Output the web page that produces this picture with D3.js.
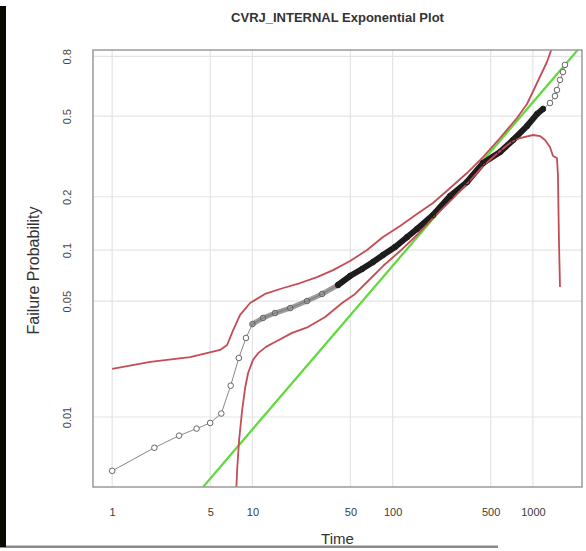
<!DOCTYPE html>
<html>
<head>
<meta charset="utf-8">
<script src="https://cdn.jsdelivr.net/npm/d3@7"></script>
<style>
  html, body { margin: 0; padding: 0; background: #fff; }
  svg { display: block; }
  text { font-family: "Liberation Sans", Arial, sans-serif; }
  .gray-text { opacity: 0.99; }
</style>
</head>
<body>
<svg id="chart" width="586" height="551"></svg>
<script>
// ---------- data ----------
const titleText = "CVRJ_INTERNAL Exponential Plot";
const xLabel = "Time";
const yLabel = "Failure Probability";

const xTickValues = [1, 5, 10, 50, 100, 500, 1000];
const yTickProbs = [0.01, 0.05, 0.1, 0.2, 0.5, 0.8];
const yTickLabels = ["0.01", "0.05", "0.1", "0.2", "0.5", "0.8"];

// observed failure points (time, failure probability)
const obsTimes = [1, 2, 3, 4, 5, 6, 7, 8, 9, 10, 11.9, 14.5, 18.6, 24.5, 31.4, 40.8, 49.7, 60.5, 72.5, 85.4,
  104, 127, 149, 194, 257, 339, 441, 583, 722, 908, 1070, 1180, 1324, 1437, 1485, 1561, 1639, 1693];
const obsProbs = [0.0047, 0.0065, 0.0077, 0.0085, 0.0092, 0.0105, 0.0155, 0.0228, 0.0301, 0.0365, 0.0397, 0.0425,
  0.0455, 0.0501, 0.0552, 0.0624, 0.0705, 0.0775, 0.0852, 0.0936, 0.1042, 0.1189, 0.1321, 0.1584, 0.2018, 0.2401,
  0.3014, 0.3422, 0.3910, 0.4532, 0.5107, 0.5356, 0.566, 0.602, 0.633, 0.685, 0.725, 0.760];

// upper confidence bound
const upperTimes = [1, 1.87, 3.6, 5.89, 6.6, 7.29, 8.17, 9.63, 12.3, 16.6, 21.9, 28.9, 37.6, 49.7, 65.7, 85.4,
  113, 149, 194, 257, 339, 441, 583, 770, 908, 1070, 1260, 1391];
const upperProbs = [0.0196, 0.0216, 0.0231, 0.0255, 0.0273, 0.0336, 0.0414, 0.0488, 0.0552, 0.0599, 0.0641, 0.0695,
  0.0764, 0.0863, 0.1000, 0.1189, 0.1374, 0.1605, 0.1848, 0.2230, 0.2677, 0.3231, 0.3995, 0.4912, 0.5609, 0.6691,
  0.7738, 0.8486];

// lower confidence bound
const lowerTimes = [7.65, 7.78, 8.04, 8.45, 8.87, 9.32, 10.1, 11.0, 12.5, 14.5, 19.2, 24.9, 33.0, 43.6, 54.0, 65.7,
  85.4, 113, 149, 194, 257, 339, 441, 583, 687, 809, 1002, 1124, 1220, 1324, 1391, 1485, 1509, 1534, 1561];
const lowerProbs = [0.00335, 0.00476, 0.00725, 0.01103, 0.0150, 0.0185, 0.0222, 0.0244, 0.0266, 0.0285, 0.0323,
  0.0350, 0.0402, 0.0488, 0.0552, 0.0650, 0.0807, 0.0987, 0.1221, 0.1524, 0.1895, 0.2343, 0.2909, 0.3460, 0.3783,
  0.3995, 0.4126, 0.4081, 0.3910, 0.3620, 0.3269, 0.3194, 0.2614, 0.1143, 0.0607];

// fitted exponential line (two end points)
const fitTimes = [4.45, 2200];
const fitProbs = [0.00375, 0.8435];

// ---------- drawing ----------
const svg = d3.select("#chart");
const plot = { left: 93, right: 582, top: 50, bottom: 487 };

// cumulative hazard transform for the exponential probability axis
const hz = p => -Math.log(1 - p);

const x = d3.scaleLog().domain([0.73, 2240]).range([plot.left, plot.right]);
const y = d3.scaleLog().domain([0.003753, 1.76]).range([plot.bottom, plot.top]);

svg.append("rect").attr("width", 586).attr("height", 551).attr("fill", "#fff");

svg.append("clipPath").attr("id", "clip")
  .append("rect")
  .attr("x", plot.left).attr("y", plot.top)
  .attr("width", plot.right - plot.left).attr("height", plot.bottom - plot.top);

// grid
const grid = svg.append("g").attr("stroke", "#e4e4e4").attr("stroke-width", 1.2);
grid.selectAll(".vg").data(xTickValues).join("line")
  .attr("x1", d => x(d)).attr("x2", d => x(d))
  .attr("y1", plot.top).attr("y2", plot.bottom);
grid.selectAll(".hg").data(yTickProbs).join("line")
  .attr("x1", plot.left).attr("x2", plot.right)
  .attr("y1", d => y(hz(d))).attr("y2", d => y(hz(d)));

// axes (labels only)
const xAxis = d3.axisBottom(x).tickValues(xTickValues).tickFormat(d3.format("d")).tickSize(0).tickPadding(0);
const gx = svg.append("g").attr("class", "gray-text").attr("transform", `translate(0,${plot.bottom + 25})`)
  .attr("color", "#3a3a3a").call(xAxis);
gx.select(".domain").remove();
gx.selectAll("text").attr("font-size", 11).attr("fill", "#3a3a3a").attr("dy", "0.35em")
  .style("font-family", "'Liberation Sans', Arial, sans-serif");

const yAxis = d3.axisLeft(y).tickValues(yTickProbs.map(hz))
  .tickFormat((d, i) => yTickLabels[i]).tickSize(0).tickPadding(0);
const gy = svg.append("g").attr("transform", `translate(${plot.left - 26},0)`)
  .attr("color", "#444").call(yAxis);
gy.select(".domain").remove();
gy.selectAll("text")
  .attr("font-size", 11).attr("fill", "#444")
  .attr("x", 0).attr("dy", 0)
  .attr("text-anchor", "middle").attr("dominant-baseline", "central")
  .attr("transform", "rotate(-90)")
  .style("font-family", "'Liberation Sans', Arial, sans-serif");

const body = svg.append("g").attr("clip-path", "url(#clip)");

const toPts = (ts, ps) => ts.map((t, i) => [t, ps[i]]);
const line = d3.line().x(d => x(d[0])).y(d => y(hz(d[1])));

// fitted line
body.append("path").datum(toPts(fitTimes, fitProbs))
  .attr("d", line).attr("fill", "none").attr("stroke", "#5fd93c").attr("stroke-width", 2.2);

// observed: thin connecting line
const obs = toPts(obsTimes, obsProbs);
body.append("path").datum(obs)
  .attr("d", line).attr("fill", "none").attr("stroke", "#888").attr("stroke-width", 1);

// dense part of the observations
body.append("path").datum(obs.filter(d => d[0] >= 10 && d[0] <= 41))
  .attr("d", line).attr("fill", "none").attr("stroke", "#7a7a7a").attr("stroke-width", 5)
  .attr("stroke-linecap", "round").attr("stroke-opacity", 0.75);
body.append("path").datum(obs.filter(d => d[0] >= 40 && d[0] <= 1190))
  .attr("d", line).attr("fill", "none").attr("stroke", "#1c1c1c").attr("stroke-width", 6)
  .attr("stroke-linecap", "round");

// confidence bounds
[toPts(upperTimes, upperProbs), toPts(lowerTimes, lowerProbs)].forEach(b => {
  body.append("path").datum(b)
    .attr("d", line).attr("fill", "none").attr("stroke", "#c44c56").attr("stroke-width", 1.8)
    .attr("stroke-linejoin", "round");
});

// points
body.selectAll("circle.pt").data(obs).join("circle")
  .attr("class", "pt")
  .attr("cx", d => x(d[0])).attr("cy", d => y(hz(d[1])))
  .attr("r", 2.8)
  .attr("fill", d => (d[0] < 10 || d[0] > 1190) ? "#fff" : "none")
  .attr("stroke", d => d[0] > 40 && d[0] <= 1190 ? "#222" : "#666")
  .attr("stroke-width", 1);

// box
svg.append("rect")
  .attr("x", plot.left).attr("y", plot.top)
  .attr("width", plot.right - plot.left).attr("height", plot.bottom - plot.top)
  .attr("fill", "none").attr("stroke", "#9a9a9a").attr("stroke-width", 1.5);

// title and axis titles
svg.append("text").attr("x", (plot.left + plot.right) / 2).attr("y", 22)
  .attr("text-anchor", "middle").attr("font-size", 13).attr("font-weight", "bold").attr("fill", "#333")
  .text(titleText);

svg.append("text").attr("transform", `translate(39,${(plot.top + plot.bottom) / 2 + 2}) rotate(-90)`)
  .attr("text-anchor", "middle").attr("font-size", 16).attr("fill", "#333")
  .text(yLabel);

svg.append("text").attr("x", (plot.left + plot.right) / 2).attr("y", 543.5)
  .attr("text-anchor", "middle").attr("font-size", 15).attr("fill", "#333")
  .text(xLabel);

// frame pieces of the original screenshot
svg.append("rect").attr("x", 0).attr("y", 548).attr("width", 586).attr("height", 3).attr("fill", "#fff");
svg.append("rect").attr("x", 0).attr("y", 545.5).attr("width", 498).attr("height", 2.5).attr("fill", "#8a8a8a");
svg.append("rect").attr("x", 0).attr("y", 6).attr("width", 6).attr("height", 541).attr("fill", "#0a0a00");
</script>
</body>
</html>
